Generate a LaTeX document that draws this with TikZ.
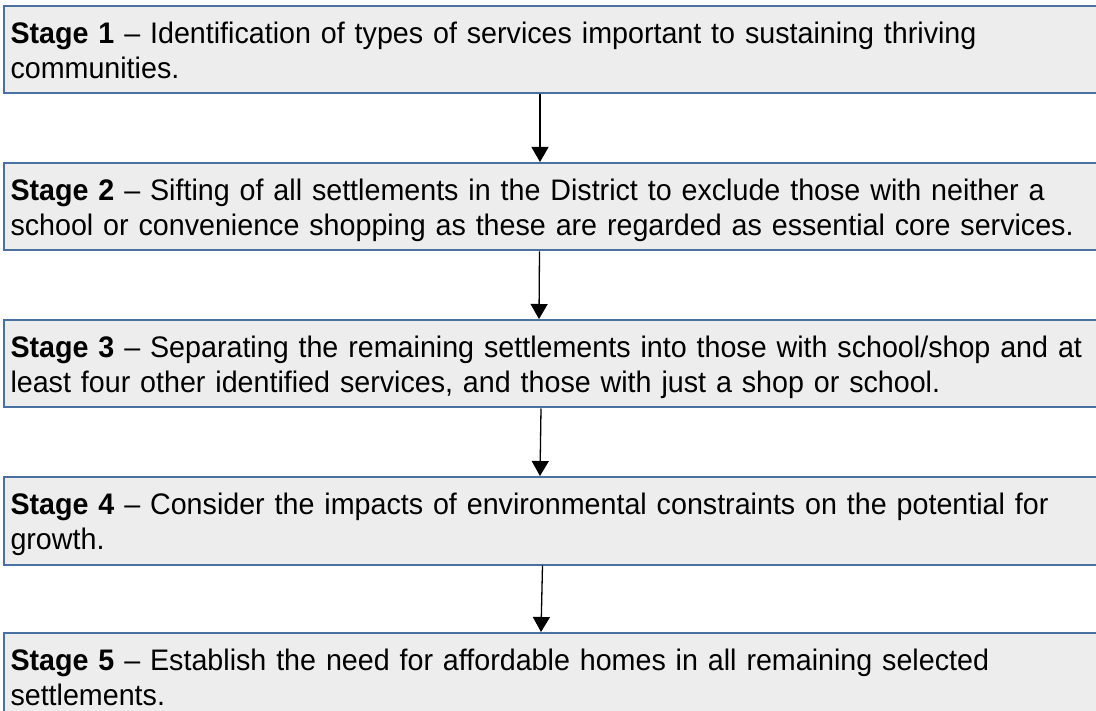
\documentclass[tikz,border=0pt]{standalone}
\usepackage{fontspec}
\setmainfont[FakeStretch=0.965]{Liberation Sans}
\usetikzlibrary{arrows.meta}
\definecolor{boxline}{RGB}{72,113,160}
\definecolor{boxfill}{RGB}{237,237,237}
\tikzset{
  stagebox/.style={draw=boxline, line width=2pt, fill=boxfill, anchor=north west,
    inner xsep=6.5pt, inner ysep=0pt, text width=1100pt, align=left,
    text height=37.7pt, text depth=49.8pt,
    font=\fontsize{29.7}{34.6}\selectfont},
  flowarrow/.style={draw=black, line width=1.3pt, -{Triangle[width=17pt,length=15pt]}}
}
\begin{document}
\begin{tikzpicture}[x=1pt,y=-1pt]
\useasboundingbox (0,0) rectangle (1096,711);
\clip (0,0) rectangle (1096,711);
\node[stagebox] (b1) at (3,5) {\textbf{Stage 1} – Identification of types of services important to sustaining thriving\\communities.};
\node[stagebox] (b2) at (3,162) {\textbf{Stage 2} – Sifting of all settlements in the District to exclude those with neither a\\school or convenience shopping as these are regarded as essential core services.};
\node[stagebox] (b3) at (3,319) {\textbf{Stage 3} – Separating the remaining settlements into those with school/shop and at\\least four other identified services, and those with just a shop or school.};
\node[stagebox] (b4) at (3,476) {\textbf{Stage 4} – Consider the impacts of environmental constraints on the potential for\\growth.};
\node[stagebox] (b5) at (3,632) {\textbf{Stage 5} – Establish the need for affordable homes in all remaining selected\\settlements.};
\draw[flowarrow] ([xshift=537pt]b1.south west) -- ([xshift=537pt]b2.north west);
\draw[flowarrow] ([xshift=536.5pt]b2.south west) -- ([xshift=536pt]b3.north west);
\draw[flowarrow] ([xshift=538pt]b3.south west) -- ([xshift=537pt]b4.north west);
\draw[flowarrow] ([xshift=539.5pt]b4.south west) -- ([xshift=538pt]b5.north west);
\end{tikzpicture}
\end{document}
